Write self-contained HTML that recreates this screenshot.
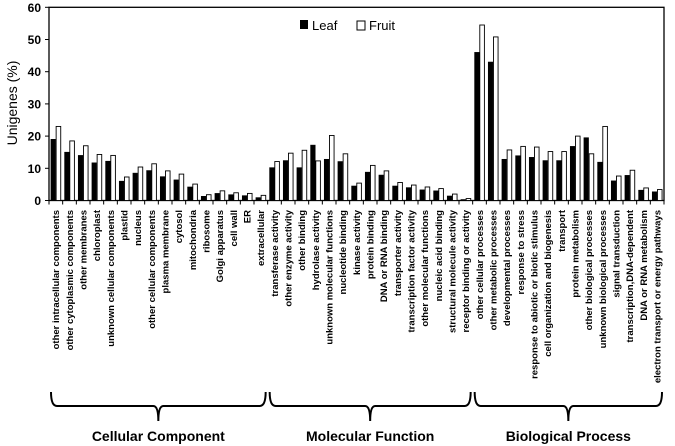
<!DOCTYPE html>
<html><head><meta charset="utf-8"><style>
body{margin:0;background:#fff;}
svg{display:block;font-family:"Liberation Sans",sans-serif;}
</style></head><body>
<svg id="chart" width="675" height="446" viewBox="0 0 675 446">
<g id="plot"></g>
</svg>
<script>
const categories=["other intracellular components","other cytoplasmic components","other membranes","chloroplast","unknown cellular components","plastid","nucleus","other cellular components","plasma membrane","cytosol","mitochondria","ribosome","Golgi apparatus","cell wall","ER","extracellular",
"transferase activity","other enzyme activity","other binding","hydrolase activity","unknown molecular functions","nucleotide binding","kinase activity","protein binding","DNA or RNA binding","transporter activity","transcription factor activity","other molecular functions","nucleic acid binding","structural molecule activity","receptor binding or activity",
"other cellular processes","other metabolic processes","developmental processes","response to stress","response to abiotic or biotic stimulus","cell organization and biogenesis","transport","protein metabolism","other biological processes","unknown biological processes","signal transduction","transcription,DNA-dependent","DNA or RNA metabolism","electron transport or energy pathways"];
const leafValues=[19,15,14,11.7,12.2,6,8.5,9.3,7.4,6.4,4.2,1.3,2.2,1.8,1.5,0.9,
10.2,12.4,10.2,17.2,12.8,12.1,4.5,8.8,7.9,4.5,4.0,3.3,3.0,1.4,0.3,
46,43,12.8,13.9,13.4,12.4,12.4,16.8,19.5,11.9,6.1,7.8,3.2,2.7];
const fruitValues=[23,18.5,17,14.3,14,7.3,10.4,11.4,9.2,8.2,5.1,1.8,3,2.4,2.2,1.6,
12.1,14.7,15.6,12.3,20.2,14.5,5.4,10.9,9.2,5.6,4.8,4.2,3.7,2.0,0.6,
54.5,50.8,15.7,16.8,16.6,15.2,15.2,20,14.5,23,7.6,9.4,3.9,3.4];
const yTicks=[0,10,20,30,40,50,60];
const groupNames=["Cellular Component","Molecular Function","Biological Process"];
const groupCounts=[16,15,14];

const NS="http://www.w3.org/2000/svg";
const g=document.getElementById('plot');
const X0=49,X1=664,Y0=200.5,YT=7.3,YMAX=60;
const step=(X1-X0)/categories.length;
function xs(i){return X0+step*i;}
function ys(v){return Y0-(v/YMAX)*(Y0-YT);}
function el(tag,attrs,parent){const e=document.createElementNS(NS,tag);for(const k in attrs)e.setAttribute(k,attrs[k]);(parent||g).appendChild(e);return e;}

const frame=el('rect',{x:X0,y:YT,width:X1-X0,height:Y0-YT,fill:'none',stroke:'#000','stroke-width':1.3});



yTicks.forEach(t=>{
  const ln=el('line',{x1:X0-4,x2:X0,y1:ys(t),y2:ys(t),stroke:'#000','stroke-width':1});
  
  
  const tx=el('text',{x:X0-8,y:ys(t)+4.5,'text-anchor':'end','font-size':12,'font-weight':'bold'});
  tx.textContent=t;
  
  
});
const yt=el('text',{transform:'translate(17,103) rotate(-90)','text-anchor':'middle','font-size':14});
yt.textContent='Unigenes (%)';



const bw=4.6;
categories.forEach((c,i)=>{
  const cx=xs(i)+step/2;
  const b1=el('rect',{x:cx-bw-0.3,y:ys(leafValues[i]),width:bw,height:Y0-ys(leafValues[i]),fill:'#000',stroke:'#000','stroke-width':0.6});
  
  
  const b2=el('rect',{x:cx+0.3,y:ys(fruitValues[i]),width:bw,height:Y0-ys(fruitValues[i]),fill:'#fff',stroke:'#000','stroke-width':0.9});
  
  
  const tk=el('line',{x1:xs(i),x2:xs(i),y1:Y0,y2:Y0+4,stroke:'#000','stroke-width':1});
  
  
  const lb=el('text',{transform:`translate(${cx+3.4},210) rotate(-90)`,'text-anchor':'end','font-size':9.5,'font-weight':'bold'});
  lb.textContent=c;
  
  
});
el('line',{x1:X1,x2:X1,y1:Y0,y2:Y0+4,stroke:'#000'});

let start=0;
groupCounts.forEach((n,k)=>{
  const a=xs(start)+2,b=xs(start+n)-2,m=(a+b)/2;
  const d=`M${a},392 Q${a},406 ${a+6},406 L${m-5},406 Q${m},406 ${m},421 Q${m},406 ${m+5},406 L${b-6},406 Q${b},406 ${b},392`;
  const p=el('path',{d:d,fill:'none',stroke:'#000','stroke-width':2});
  
  
  const t=el('text',{x:m,y:441,'text-anchor':'middle','font-size':14,'font-weight':'bold'});
  t.textContent=groupNames[k];
  
  
  start+=n;
});

const lg=el('g',{});


el('rect',{x:300,y:20,width:8,height:9,fill:'#000'},lg);
const l1=el('text',{x:312,y:30,'font-size':13},lg);l1.textContent='Leaf';


el('rect',{x:357,y:21,width:8,height:9,fill:'#fff',stroke:'#000','stroke-width':1},lg);
const l2=el('text',{x:369,y:30,'font-size':13},lg);l2.textContent='Fruit';


</script>
</body></html>
